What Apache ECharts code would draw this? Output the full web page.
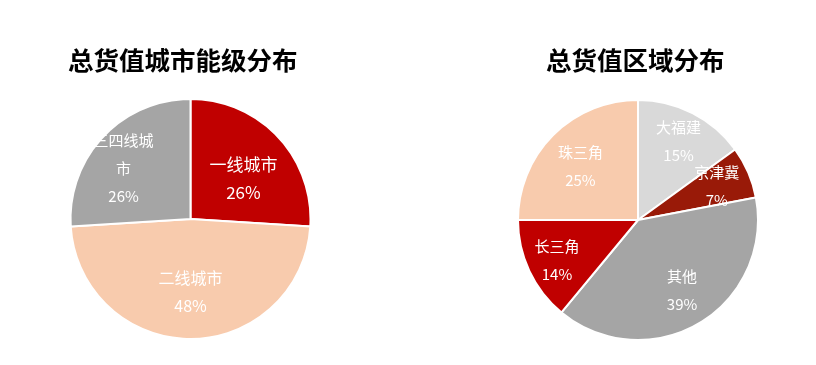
<!DOCTYPE html>
<html>
<head>
<meta charset="utf-8">
<script src="https://cdn.jsdelivr.net/npm/echarts@6/dist/echarts.min.js"></script>
<style>
html,body{margin:0;padding:0;background:#fff;}
#chart{width:816px;height:365px;}
</style>
</head>
<body>
<div id="chart"></div>
<script>
// Data
const tierTitle = '总货值城市能级分布';
const tierNames = ['一线城市', '二线城市', '三四线城市'];
const tierValues = [26, 48, 26];

const regionTitle = '总货值区域分布';
const regionNames = ['大福建', '京津冀', '其他', '长三角', '珠三角'];
const regionValues = [15, 7, 39, 14, 25];

// Styles
const tierColors = ['#C00000', '#F8CBAD', '#A5A5A5'];
const regionColors = ['#D9D9D9', '#991A08', '#A5A5A5', '#C00000', '#F8CBAD'];
const tierOffsets = [[7, 3], [0, 10], [-21, -8]];
const regionOffsets = [[12, -23], [21, -9], [12, 16], [-24, 13], [-13, -9]];

const FONT = '"Noto Sans CJK SC", "Microsoft YaHei", sans-serif';

function makeData(names, values, colors, extra) {
  return names.map((n, i) => {
    const item = { name: n, value: values[i], itemStyle: { color: colors[i] } };
    if (extra && extra[i]) item.label = extra[i];
    return item;
  });
}

const chart = echarts.init(document.getElementById('chart'), null, { renderer: 'canvas' });

const labelBase = {
  show: true,
  position: 'inside',
  color: '#ffffff',
  fontFamily: FONT,
  fontSize: 15,
  lineHeight: 28,
  formatter: p => p.name + '\n' + p.value + '%'
};

const titleStyle = { fontFamily: FONT, fontSize: 25.5, fontWeight: 'bold', color: '#000000' };

chart.setOption({
  backgroundColor: '#ffffff',
  animation: false,
  title: [
    { text: tierTitle, left: 68, top: 48, padding: 0, textStyle: titleStyle },
    { text: regionTitle, left: 546, top: 48, padding: 0, textStyle: titleStyle }
  ],
  series: [
    {
      type: 'pie',
      center: [190.5, 219],
      radius: 120,
      startAngle: 90,
      clockwise: true,
      itemStyle: { borderColor: '#ffffff', borderWidth: 2 },
      label: labelBase,
      labelLine: { show: false },
      emphasis: { disabled: true },
      labelLayout: p => ({ dx: tierOffsets[p.dataIndex][0], dy: tierOffsets[p.dataIndex][1] }),
      data: makeData(tierNames, tierValues, tierColors, [
        { fontSize: 17 },
        { fontSize: 16 },
        { fontSize: 15, width: 62, overflow: 'break' }
      ])
    },
    {
      type: 'pie',
      center: [638, 220],
      radius: 120,
      startAngle: 90,
      clockwise: true,
      itemStyle: { borderColor: '#ffffff', borderWidth: 2 },
      label: labelBase,
      labelLine: { show: false },
      emphasis: { disabled: true },
      labelLayout: p => ({ dx: regionOffsets[p.dataIndex][0], dy: regionOffsets[p.dataIndex][1] }),
      data: makeData(regionNames, regionValues, regionColors)
    }
  ]
});
</script>
</body>
</html>
